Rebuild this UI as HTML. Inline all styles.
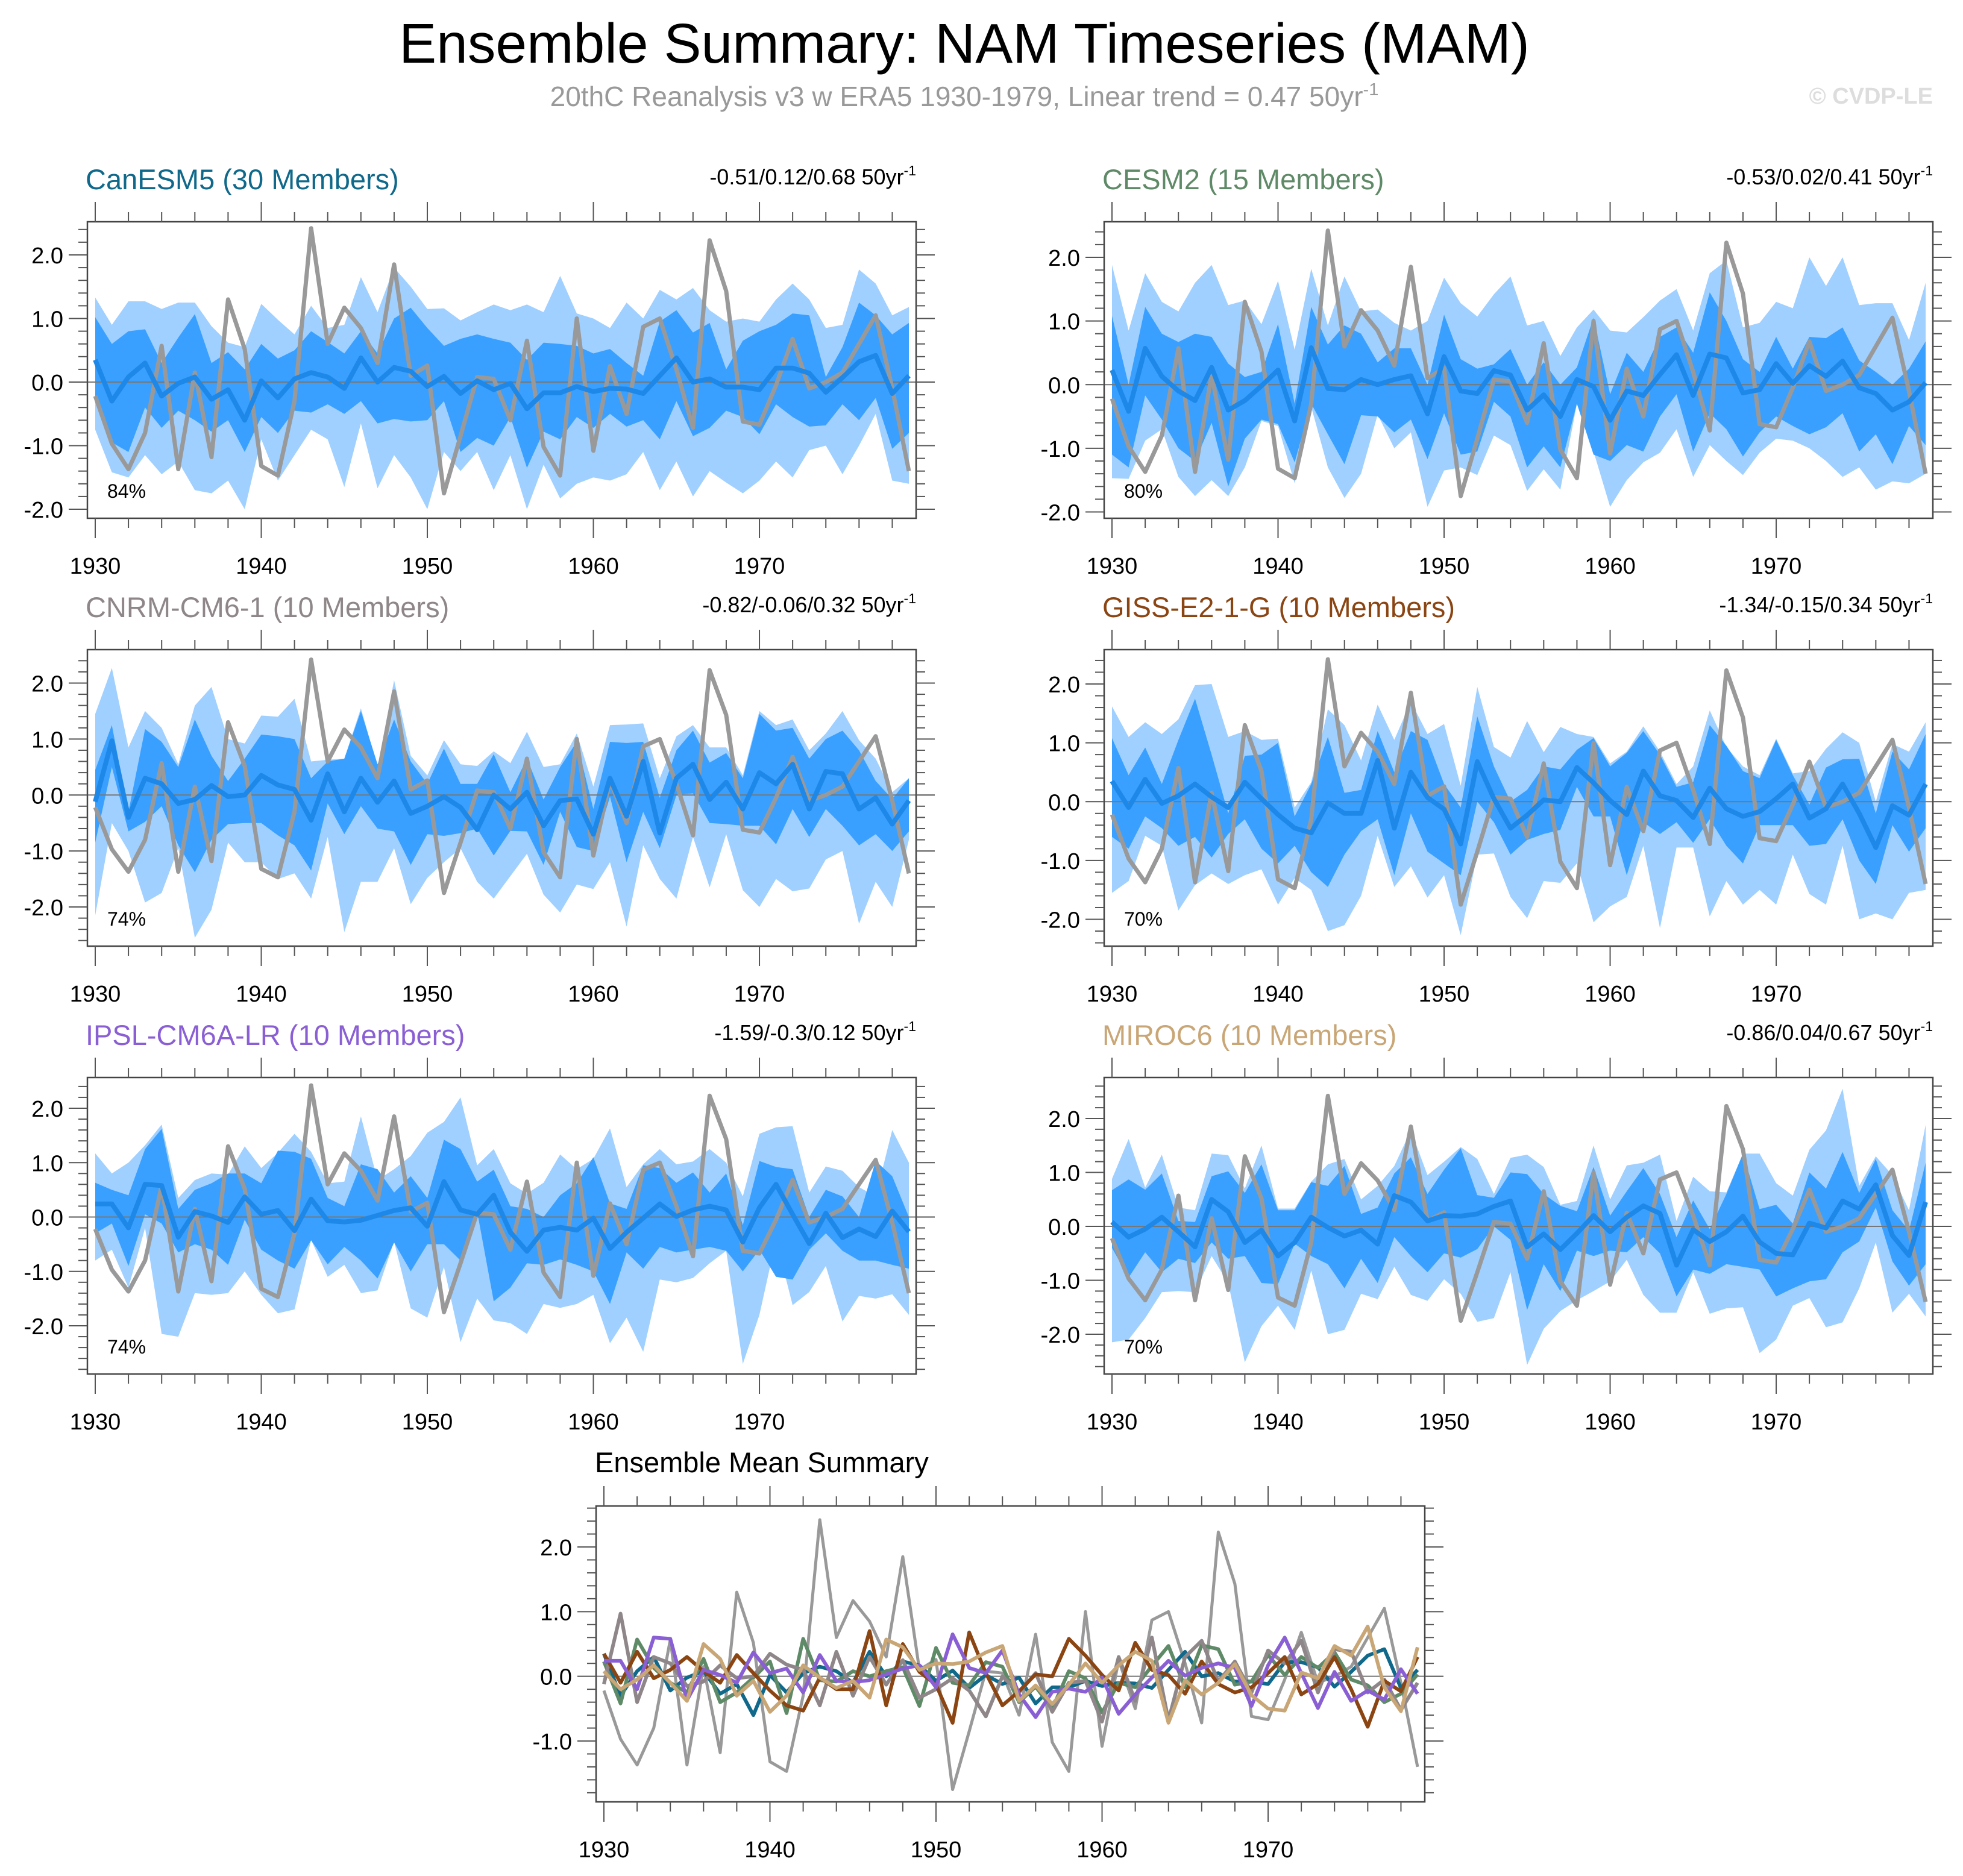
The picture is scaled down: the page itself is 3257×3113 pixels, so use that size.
<!DOCTYPE html>
<html><head><meta charset="utf-8"><title>Ensemble Summary: NAM Timeseries (MAM)</title>
<style>
html,body{margin:0;padding:0;background:#fff;}
svg{display:block;font-family:"Liberation Sans",sans-serif;}
</style></head>
<body>
<svg id="chart" xmlns="http://www.w3.org/2000/svg" width="3257" height="3113" viewBox="0 0 3257 3113">
<rect x="0" y="0" width="3257" height="3113" fill="#fff"/>
<text x="1600" y="104" font-size="93" text-anchor="middle" fill="#000">Ensemble Summary: NAM Timeseries (MAM)</text>
<text x="1600" y="176" font-size="46" text-anchor="middle" fill="#999">20thC Reanalysis v3 w ERA5 1930-1979, Linear trend = 0.47 50yr<tspan dy="-18" font-size="29">-1</tspan></text>
<text x="3207" y="172" font-size="38" font-weight="bold" text-anchor="end" fill="#ddd">© CVDP-LE</text>
<g id="plots"></g>
</svg>
<script>
const years = [];
for (let y = 1930; y <= 1979; y++) years.push(y);
const xTickLabels = ["1930","1940","1950","1960","1970"];

const obs = [-0.22,-0.97,-1.37,-0.8,0.57,-1.37,0.15,-1.18,1.3,0.52,-1.32,-1.47,-0.3,2.42,0.6,1.17,0.85,0.3,1.85,0.1,0.26,-1.75,-0.85,0.08,0.05,-0.6,0.65,-1.02,-1.47,1.0,-1.08,0.25,-0.5,0.87,1.0,0.2,-0.72,2.23,1.43,-0.62,-0.67,-0.05,0.68,-0.1,0.0,0.15,0.6,1.05,-0.1,-1.4];

const canMean = [0.35,-0.3,0.08,0.3,-0.22,-0.02,0.08,-0.27,-0.12,-0.6,0.02,-0.25,0.05,0.15,0.08,-0.1,0.38,0.0,0.23,0.17,-0.07,0.09,-0.18,0.02,-0.12,-0.02,-0.42,-0.17,-0.17,-0.07,-0.15,-0.1,-0.11,-0.18,0.1,0.38,0.0,0.05,-0.08,-0.08,-0.12,0.22,0.22,0.14,-0.16,0.07,0.32,0.42,-0.18,0.1];
const canDarkHi = [1.02,0.6,0.8,0.83,0.3,0.7,1.07,0.3,0.47,0.2,0.6,0.37,0.5,0.8,0.63,0.45,0.8,0.45,1.0,1.17,0.85,0.57,0.68,0.75,0.68,0.62,0.35,0.62,0.6,0.57,0.45,0.52,0.3,0.1,0.95,1.13,0.78,0.93,0.2,0.65,0.8,0.9,1.08,1.05,0.08,0.55,1.25,1.05,0.75,0.93];
const canDarkLo = [-0.3,-0.95,-1.1,-0.4,-0.72,-0.45,-0.6,-0.78,-0.6,-1.1,-0.55,-0.8,-0.45,-0.48,-0.35,-0.5,-0.3,-0.65,-0.58,-0.62,-0.6,-0.3,-1.1,-0.88,-1.0,-0.55,-1.35,-0.78,-0.9,-0.55,-0.72,-0.5,-0.7,-0.6,-0.9,-0.3,-0.85,-0.72,-0.45,-0.55,-0.82,-0.35,-0.55,-0.7,-0.68,-0.35,-0.6,-0.25,-1.05,-0.8];
const canLightHi = [1.33,0.9,1.27,1.27,1.15,1.25,1.25,0.88,0.62,0.55,1.23,0.98,0.75,1.2,0.85,0.9,1.65,1.1,1.8,1.5,1.15,1.16,0.97,1.1,1.22,1.13,1.22,1.1,1.67,1.08,1.0,0.85,1.25,1.0,1.45,1.3,1.48,1.13,0.95,1.0,0.95,1.3,1.55,1.3,0.85,0.9,1.77,1.55,1.05,1.18];
const canLightLo = [-0.75,-1.42,-1.5,-1.15,-1.45,-1.25,-1.7,-1.75,-1.55,-2.0,-0.9,-1.55,-1.15,-0.75,-0.9,-1.65,-0.65,-1.67,-1.15,-1.5,-2.0,-1.1,-1.4,-1.1,-1.7,-1.15,-2.0,-1.3,-1.83,-1.6,-1.5,-1.55,-1.45,-1.1,-1.7,-1.25,-1.8,-1.4,-1.58,-1.75,-1.55,-1.25,-1.5,-1.07,-1.0,-1.45,-1.0,-0.5,-1.55,-1.6];

const cesmMean = [0.23,-0.42,0.57,0.13,-0.1,-0.25,0.27,-0.4,-0.25,-0.02,0.23,-0.57,0.58,-0.06,-0.08,0.08,0.0,0.08,0.14,-0.46,0.44,-0.1,-0.14,0.22,0.15,-0.4,-0.16,-0.5,0.08,-0.03,-0.56,-0.1,-0.17,0.16,0.47,-0.17,0.48,0.42,-0.13,-0.08,0.33,0.02,0.3,0.13,0.37,-0.05,-0.14,-0.4,-0.27,0.03];
const cesmDarkHi = [1.08,0.0,1.22,0.8,0.67,0.8,0.75,0.33,0.12,0.2,0.95,-0.3,1.22,0.63,0.93,0.8,0.35,0.57,0.57,0.0,1.1,0.4,0.25,0.32,0.56,0.0,0.35,0.0,0.27,1.05,-0.15,0.5,0.2,0.75,0.9,0.5,1.45,1.0,0.4,0.2,0.75,0.25,0.75,0.73,0.9,0.38,0.2,0.0,0.25,0.68];
const cesmDarkLo = [-1.1,-1.3,-0.17,-0.55,-1.0,-1.2,-0.6,-1.6,-0.85,-0.55,-0.62,-1.22,-0.3,-0.78,-1.25,-0.48,-0.5,-0.75,-0.55,-1.17,-0.45,-1.1,-1.05,-0.27,-0.5,-1.3,-0.97,-1.3,-0.3,-1.1,-1.2,-0.95,-1.05,-0.5,-0.15,-1.05,-0.45,-0.7,-1.13,-0.75,-0.5,-0.65,-0.78,-0.67,-0.45,-1.05,-0.78,-1.25,-0.65,-0.95];
const cesmLightHi = [1.88,0.85,1.75,1.3,1.15,1.6,1.88,1.25,1.32,0.95,1.63,0.55,1.82,0.93,1.7,1.15,1.18,0.97,0.85,1.0,1.68,1.28,1.07,1.42,1.7,0.93,1.0,0.45,0.9,1.18,0.85,0.82,1.06,1.32,1.5,0.85,1.75,1.95,0.9,0.97,1.3,1.2,2.0,1.55,2.0,1.25,1.28,1.28,0.7,1.6];
const cesmLightLo = [-1.47,-1.48,-0.88,-0.7,-1.45,-1.75,-1.5,-1.75,-1.3,-0.57,-0.65,-1.55,-0.35,-1.3,-1.78,-1.4,-0.47,-1.0,-0.75,-1.92,-1.35,-1.3,-1.42,-0.8,-0.95,-1.67,-1.33,-1.65,-0.3,-1.05,-1.92,-1.5,-1.22,-1.07,-0.7,-1.45,-0.95,-1.2,-1.42,-1.07,-0.85,-0.88,-1.0,-1.2,-1.45,-1.3,-1.65,-1.52,-1.55,-1.4];

const cnrmMean = [-0.12,0.97,-0.4,0.3,0.2,-0.15,-0.08,0.17,-0.03,0.0,0.35,0.18,0.1,-0.45,0.38,-0.3,0.3,-0.13,0.25,-0.33,-0.2,-0.03,-0.22,-0.62,0.0,-0.25,0.05,-0.55,-0.1,-0.07,-0.7,0.3,-0.38,0.6,-0.68,0.3,0.55,-0.08,0.23,-0.25,0.4,0.2,0.55,-0.25,0.42,0.38,-0.25,-0.05,-0.52,-0.1];
const cnrmDarkHi = [0.45,1.25,-0.3,1.18,0.95,0.5,1.35,0.7,0.25,0.65,1.08,1.05,1.0,0.3,0.6,0.65,1.5,0.55,1.35,0.6,0.2,0.83,0.2,0.2,0.73,0.05,0.65,-0.08,0.5,0.95,-0.25,0.95,0.93,0.95,-0.05,0.8,1.15,0.58,0.75,0.3,1.45,1.15,1.2,0.65,1.0,1.15,0.8,0.25,-0.07,0.3];
const cnrmDarkLo = [-0.85,0.5,-0.65,-0.48,-0.2,-0.9,-1.38,-0.8,-0.52,-0.5,-0.5,-0.72,-0.9,-1.35,-0.15,-0.7,-0.2,-0.6,-0.65,-1.25,-0.7,-0.73,-0.68,-0.6,-1.08,-0.64,-0.65,-1.25,-0.3,-0.93,-1.0,-0.03,-1.2,-0.3,-0.95,0.0,0.03,-0.5,-0.52,-0.55,-0.55,-0.88,-0.25,-0.75,-0.25,-0.55,-0.9,-0.7,-1.0,-0.65];
const cnrmLightHi = [1.45,2.27,0.85,1.5,1.2,0.55,1.6,1.93,1.0,0.92,1.42,1.4,1.72,0.6,0.63,0.65,1.55,0.5,2.05,0.7,0.35,0.98,0.55,0.52,0.78,0.57,1.13,0.5,0.55,1.1,0.15,1.25,1.26,1.28,0.3,1.05,1.25,0.85,0.85,0.35,1.5,1.25,1.35,0.8,1.1,1.5,0.98,0.65,0.05,0.3];
const cnrmLightLo = [-2.15,-0.5,-1.0,-1.92,-1.75,-0.95,-2.55,-2.05,-0.85,-1.2,-1.2,-1.5,-1.4,-1.85,-0.75,-2.45,-1.55,-1.55,-0.95,-1.95,-1.48,-1.2,-0.95,-1.55,-1.85,-1.45,-1.05,-1.78,-2.1,-1.6,-1.68,-1.2,-2.35,-0.9,-1.5,-1.85,-0.75,-1.65,-0.7,-1.7,-2.0,-1.5,-1.72,-1.67,-1.15,-1.0,-2.3,-1.55,-2.0,-0.8];

const gissMean = [0.35,-0.1,0.38,-0.03,0.1,0.3,0.08,-0.1,0.33,0.05,-0.22,-0.45,-0.53,-0.02,-0.2,-0.2,0.7,-0.45,0.5,0.07,-0.13,-0.72,0.68,0.05,-0.45,-0.23,0.03,0.0,0.58,0.32,0.02,-0.22,0.52,0.1,0.02,-0.27,0.23,-0.12,-0.25,-0.17,0.05,0.3,-0.28,-0.12,0.3,-0.2,-0.78,-0.07,-0.23,0.3];
const gissDarkHi = [1.08,0.45,0.92,0.3,1.05,1.75,0.8,-0.2,0.78,0.8,1.0,-0.25,0.3,1.1,0.15,0.2,1.2,0.5,1.2,1.05,0.3,-0.1,1.45,0.6,0.0,0.2,0.6,0.55,0.88,1.08,0.6,0.83,1.2,0.8,0.25,0.33,1.3,0.95,0.52,0.4,1.05,0.45,-0.05,0.58,0.72,0.73,-0.2,0.85,0.55,1.15];
const gissDarkLo = [-0.6,-0.8,-0.25,-0.45,-0.75,-0.6,-0.95,-0.55,-0.3,-0.8,-1.05,-0.75,-1.2,-1.45,-0.9,-0.5,-0.3,-1.25,-0.2,-0.85,-1.05,-1.25,0.0,-0.35,-0.9,-0.65,-0.55,-0.48,0.25,-0.25,-0.25,-1.25,-0.35,-0.55,-0.35,-0.7,-0.3,-0.75,-1.05,-0.4,-0.4,-0.4,-0.75,-0.72,-0.3,-1.0,-1.4,-0.4,-0.85,-0.45];
const gissLightHi = [1.62,1.1,1.35,1.15,1.4,1.98,2.0,1.1,1.2,1.05,1.07,-0.1,0.33,1.57,1.3,0.7,1.65,1.05,1.7,1.15,1.32,0.27,1.95,0.93,0.75,1.37,0.84,1.27,1.15,1.1,0.65,0.85,1.28,0.85,0.3,0.6,1.55,0.93,0.6,0.45,1.07,0.48,0.52,0.9,1.18,1.0,0.0,0.98,0.85,1.35];
const gissLightLo = [-1.55,-1.35,-0.58,-0.75,-1.85,-1.42,-1.22,-1.4,-1.25,-1.15,-1.75,-1.3,-1.5,-2.2,-2.1,-1.6,-0.58,-1.45,-1.1,-1.63,-1.25,-2.27,-0.9,-0.88,-1.62,-1.98,-1.35,-1.38,-1.05,-2.05,-1.78,-1.62,-0.75,-2.15,-0.78,-0.78,-1.95,-1.35,-1.75,-1.5,-1.75,-0.9,-1.57,-1.75,-0.75,-2.0,-1.9,-2.0,-1.55,-1.5];

const ipslMean = [0.24,0.24,-0.2,0.6,0.58,-0.37,0.1,0.02,-0.1,0.37,0.05,0.12,-0.25,0.33,-0.07,-0.09,-0.06,0.03,0.12,0.17,-0.17,0.65,0.13,0.05,0.4,-0.28,-0.63,-0.24,-0.19,-0.24,-0.02,-0.58,-0.28,-0.02,0.24,0.01,0.13,0.2,0.13,-0.46,0.17,0.6,0.05,-0.49,0.07,-0.38,-0.22,-0.36,0.11,-0.27];
const ipslDarkHi = [0.63,0.5,0.4,1.25,1.62,0.15,0.5,0.62,0.8,0.8,0.62,1.22,1.2,1.07,0.35,0.2,0.97,0.88,0.45,0.75,0.35,1.42,1.25,0.65,0.87,0.2,0.15,0.0,0.4,0.62,1.1,0.25,0.15,0.95,0.9,0.63,0.82,0.45,0.8,-0.15,1.03,0.92,0.88,0.0,0.5,0.38,0.0,1.03,0.75,0.0];
const ipslDarkLo = [-0.3,-0.12,-0.9,0.05,-0.12,-0.65,-0.5,-0.6,-0.88,-0.05,-0.6,-0.8,-0.95,-0.43,-0.87,-0.55,-0.8,-1.13,-0.47,-1.0,-0.5,-0.5,-0.8,0.1,-1.55,-1.3,-0.85,-0.88,-0.78,-0.88,-1.0,-1.6,-0.65,-0.95,-0.55,-0.65,-0.6,-0.55,-0.62,-1.0,-0.6,-1.1,-1.15,-0.6,-0.3,-0.62,-0.8,-0.8,-0.88,-0.95];
const ipslLightHi = [1.17,0.8,1.0,1.32,1.7,0.35,0.68,0.8,0.78,1.3,0.9,1.18,1.53,1.2,0.62,0.65,1.85,0.68,0.88,1.12,1.55,1.75,2.2,0.95,1.25,0.62,0.43,0.63,1.15,0.88,1.07,1.63,0.55,0.97,1.25,0.97,1.02,1.25,1.0,0.38,1.53,1.65,1.67,0.45,0.93,0.85,0.55,0.38,1.6,1.0];
const ipslLightLo = [-0.8,-0.6,-1.3,-0.2,-2.15,-2.2,-1.4,-1.43,-1.4,-1.0,-1.43,-1.77,-1.7,-0.42,-1.1,-0.88,-1.4,-1.35,-0.45,-1.68,-1.85,-0.92,-2.3,-1.5,-1.9,-1.95,-2.15,-1.6,-1.67,-1.6,-1.43,-2.32,-1.85,-2.48,-1.15,-1.2,-1.12,-0.85,-0.62,-2.7,-1.8,-0.42,-1.62,-1.38,-0.9,-1.92,-1.45,-1.5,-1.42,-1.8];

const mirocMean = [0.08,-0.2,-0.05,0.17,-0.1,-0.38,0.5,0.27,-0.3,-0.07,-0.55,-0.3,0.17,-0.02,-0.18,-0.07,-0.33,0.57,0.45,0.1,0.2,0.19,0.23,0.37,0.47,-0.38,-0.14,-0.43,-0.13,0.2,-0.1,0.17,0.38,0.24,-0.72,-0.06,-0.28,-0.1,0.19,-0.29,-0.5,-0.53,0.06,-0.03,0.47,0.32,0.77,-0.17,-0.54,0.45];
const mirocDarkHi = [0.67,0.87,0.68,0.98,0.1,0.08,0.93,1.02,0.62,1.15,0.3,0.3,0.82,0.75,1.12,0.23,0.35,0.98,1.28,0.6,1.05,1.45,0.58,0.53,1.0,0.97,0.6,0.38,0.28,1.1,0.2,0.65,1.08,0.6,-0.2,0.48,-0.05,0.6,1.35,0.32,0.4,0.05,1.0,0.7,1.38,0.62,1.25,0.3,-0.08,1.18];
const mirocDarkLo = [-0.4,-0.95,-0.48,-0.85,-0.6,-0.68,-0.3,-0.6,-0.55,-1.05,-1.07,-0.32,-0.55,-0.7,-1.15,-0.6,-1.05,-0.2,-0.55,-0.85,-0.5,-0.58,-0.42,0.0,-0.25,-1.55,-0.7,-1.2,-0.45,-0.55,-0.45,-0.48,-0.2,-0.5,-1.3,-0.8,-0.88,-0.7,-0.75,-0.8,-1.3,-1.15,-1.02,-0.98,-0.48,-0.28,0.35,-0.65,-1.1,-0.7];
const mirocLightHi = [0.88,1.62,0.72,1.33,0.35,0.3,1.35,1.32,0.7,1.5,0.33,0.33,0.83,1.15,1.25,0.5,0.75,1.12,1.78,0.95,1.2,1.47,1.25,0.6,1.27,1.33,1.1,0.4,0.47,1.5,0.5,1.13,1.18,1.33,0.1,0.92,0.65,0.63,1.35,1.35,0.8,0.57,1.42,1.78,2.55,0.75,1.3,0.95,0.3,1.88];
const mirocLightLo = [-2.15,-2.1,-1.7,-1.22,-1.2,-1.22,-0.55,-1.05,-2.52,-1.85,-1.47,-1.92,-0.82,-2.0,-1.92,-1.25,-1.35,-0.75,-1.27,-1.38,-0.98,-1.25,-1.77,-1.7,-0.85,-2.57,-1.9,-1.57,-1.37,-1.2,-1.02,-0.62,-1.27,-1.6,-1.6,-0.85,-1.62,-1.52,-1.5,-2.35,-2.1,-1.47,-1.33,-1.87,-1.78,-1.15,-0.3,-1.6,-1.25,-1.67];

const modelNames = ["CanESM5 (30 Members)","CESM2 (15 Members)","CNRM-CM6-1 (10 Members)","GISS-E2-1-G (10 Members)","IPSL-CM6A-LR (10 Members)","MIROC6 (10 Members)"];
const trendLabels = ["-0.51/0.12/0.68 50yr","-0.53/0.02/0.41 50yr","-0.82/-0.06/0.32 50yr","-1.34/-0.15/0.34 50yr","-1.59/-0.3/0.12 50yr","-0.86/0.04/0.67 50yr"];
const pctLabels = ["84%","80%","74%","70%","74%","70%"];

const NS = "http://www.w3.org/2000/svg";
const root = document.getElementById("plots");
function mk(tag, attrs, parent) {
  const e = document.createElementNS(NS, tag);
  for (const k in attrs) e.setAttribute(k, attrs[k]);
  (parent || root).appendChild(e);
  return e;
}

function makeAxes(g) {
  const xs = yr => g.x0 + (yr - 1930) * (g.x1 - g.x0) / 49;
  const ys = v => g.yA + (g.vA - v) * (g.yB - g.yA) / (g.vA - g.vB);
  const vAt = py => g.vA - (py - g.yA) * (g.vA - g.vB) / (g.yB - g.yA);
  return {xs, ys, vTop: vAt(g.top), vBot: vAt(g.bottom)};
}

function drawFrame(grp, g, ax) {
  const tc = "#555";
  for (let yr = 1930; yr <= 1979; yr += 2) {
    const x = ax.xs(yr);
    const major = (yr % 10 === 0);
    const len = major ? 33 : 16;
    const t1 = mk("line", {x1:x, x2:x, y1:g.bottom, y2:g.bottom+len, stroke:tc, "stroke-width":2}, grp);
    
    
    const t2 = mk("line", {x1:x, x2:x, y1:g.top, y2:g.top-len, stroke:tc, "stroke-width":2}, grp);
    
    
  }
  xTickLabels.forEach(lab => {
    const t = mk("text", {x:ax.xs(+lab), y:g.bottom+92, "font-size":38, "text-anchor":"middle", fill:"#000"}, grp);
    t.textContent = lab;
    
    
  });
  const lo = Math.ceil(ax.vBot * 5 - 1e-6), hi = Math.floor(ax.vTop * 5 + 1e-6);
  for (let k = lo; k <= hi; k++) {
    const v = k / 5, y = ax.ys(v);
    const major = (k % 5 === 0);
    const len = major ? 31 : 15;
    const l1 = mk("line", {x1:g.x0b, x2:g.x0b-len, y1:y, y2:y, stroke:tc, "stroke-width":2}, grp);
    
    
    const l2 = mk("line", {x1:g.x1b, x2:g.x1b+len, y1:y, y2:y, stroke:tc, "stroke-width":2}, grp);
    
    
    if (major) {
      const t = mk("text", {x:g.x0b-40, y:y+14, "font-size":38, "text-anchor":"end", fill:"#000"}, grp);
      t.textContent = (v).toFixed(1);
      
      
    }
  }
}

function linePath(ax, vals) {
  return vals.map((v, i) => (i ? "L" : "M") + ax.xs(years[i]).toFixed(1) + "," + ax.ys(v).toFixed(1)).join(" ");
}
function bandPath(ax, hiV, loV) {
  let d = hiV.map((v, i) => (i ? "L" : "M") + ax.xs(years[i]).toFixed(1) + "," + ax.ys(v).toFixed(1)).join(" ");
  for (let i = loV.length - 1; i >= 0; i--) d += " L" + ax.xs(years[i]).toFixed(1) + "," + ax.ys(loV[i]).toFixed(1);
  return d + " Z";
}

const panelData = [
  {mean:canMean, dh:canDarkHi, dl:canDarkLo, lh:canLightHi, ll:canLightLo, color:"#10698a", slug:"canesm5"},
  {mean:cesmMean, dh:cesmDarkHi, dl:cesmDarkLo, lh:cesmLightHi, ll:cesmLightLo, color:"#5f8a67", slug:"cesm2"},
  {mean:cnrmMean, dh:cnrmDarkHi, dl:cnrmDarkLo, lh:cnrmLightHi, ll:cnrmLightLo, color:"#8e8688", slug:"cnrm-cm6-1"},
  {mean:gissMean, dh:gissDarkHi, dl:gissDarkLo, lh:gissLightHi, ll:gissLightLo, color:"#8b4513", slug:"giss-e2-1-g"},
  {mean:ipslMean, dh:ipslDarkHi, dl:ipslDarkLo, lh:ipslLightHi, ll:ipslLightLo, color:"#8a5fd4", slug:"ipsl-cm6a-lr"},
  {mean:mirocMean, dh:mirocDarkHi, dl:mirocDarkLo, lh:mirocLightHi, ll:mirocLightLo, color:"#c9a676", slug:"miroc6"}
];
const layouts = [[0,368,423,845],[1687,368,427,849.5],[0,1078,1133.5,1505],[1687,1078,1135,1525.5],[0,1788,1839,2200],[1687,1788,1856,2214]];

panelData.forEach((p, i) => {
  const L = layouts[i];
  const off = L[0];
  const g = {x0:158+off, x1:1508+off, x0b:145+off, x1b:1520+off, top:L[1], bottom:L[1]+492, yA:L[2], vA:2, yB:L[3], vB:-2};
  const ax = makeAxes(g);
  const grp = mk("g", {});
  
  
  const light = mk("path", {d:bandPath(ax, p.lh, p.ll), fill:"#a0d0ff"}, grp);
  
  
  const dark = mk("path", {d:bandPath(ax, p.dh, p.dl), fill:"#3aa0ff"}, grp);
  
  
  const zl = mk("line", {x1:g.x0b, x2:g.x1b, y1:ax.ys(0), y2:ax.ys(0), stroke:"#777", "stroke-width":2}, grp);
  
  
  const ob = mk("path", {d:linePath(ax, obs), fill:"none", stroke:"#999", "stroke-width":7, "stroke-linejoin":"round"}, grp);
  
  
  const mn = mk("path", {d:linePath(ax, p.mean), fill:"none", stroke:"#1e88e8", "stroke-width":8, "stroke-linejoin":"round"}, grp);
  
  
  const box = mk("rect", {x:g.x0b, y:g.top, width:g.x1b-g.x0b, height:g.bottom-g.top, fill:"none", stroke:"#444", "stroke-width":2.5}, grp);
  
  
  drawFrame(grp, g, ax);
  const tt = mk("text", {x:g.x0b-3, y:L[1]-54, "font-size":47, fill:p.color}, grp);
  tt.textContent = modelNames[i];
  
  
  const tr = mk("text", {x:g.x1b, y:L[1]-62, "font-size":36, "text-anchor":"end", fill:"#000"}, grp);
  
  
  tr.appendChild(document.createTextNode(trendLabels[i]));
  const sup = document.createElementNS(NS, "tspan");
  sup.setAttribute("dy", "-15"); sup.setAttribute("font-size", "23");
  sup.textContent = "-1";
  tr.appendChild(sup);
  const pc = mk("text", {x:178+off, y:L[1]+458, "font-size":32, fill:"#000"}, grp);
  pc.textContent = pctLabels[i];
  
  
});

(function(){
  const g = {x0:1002, x1:2352, x0b:989, x1b:2364, top:2499, bottom:2990, yA:2567, vA:2, yB:2889, vB:-1};
  const ax = makeAxes(g);
  const grp = mk("g", {});
  
  
  const zl = mk("line", {x1:g.x0b, x2:g.x1b, y1:ax.ys(0), y2:ax.ys(0), stroke:"#777", "stroke-width":2}, grp);
  
  
  const ob = mk("path", {d:linePath(ax, obs), fill:"none", stroke:"#999", "stroke-width":5, "stroke-linejoin":"round"}, grp);
  
  
  panelData.forEach(p => {
    const l = mk("path", {d:linePath(ax, p.mean), fill:"none", stroke:p.color, "stroke-width":6, "stroke-linejoin":"round"}, grp);
    
    
  });
  const box = mk("rect", {x:g.x0b, y:g.top, width:g.x1b-g.x0b, height:g.bottom-g.top, fill:"none", stroke:"#444", "stroke-width":2.5}, grp);
  
  
  drawFrame(grp, g, ax);
  const tt = mk("text", {x:987, y:2443, "font-size":47, fill:"#000"}, grp);
  tt.textContent = "Ensemble Mean Summary";
  
  
})();
</script>
</body></html>
